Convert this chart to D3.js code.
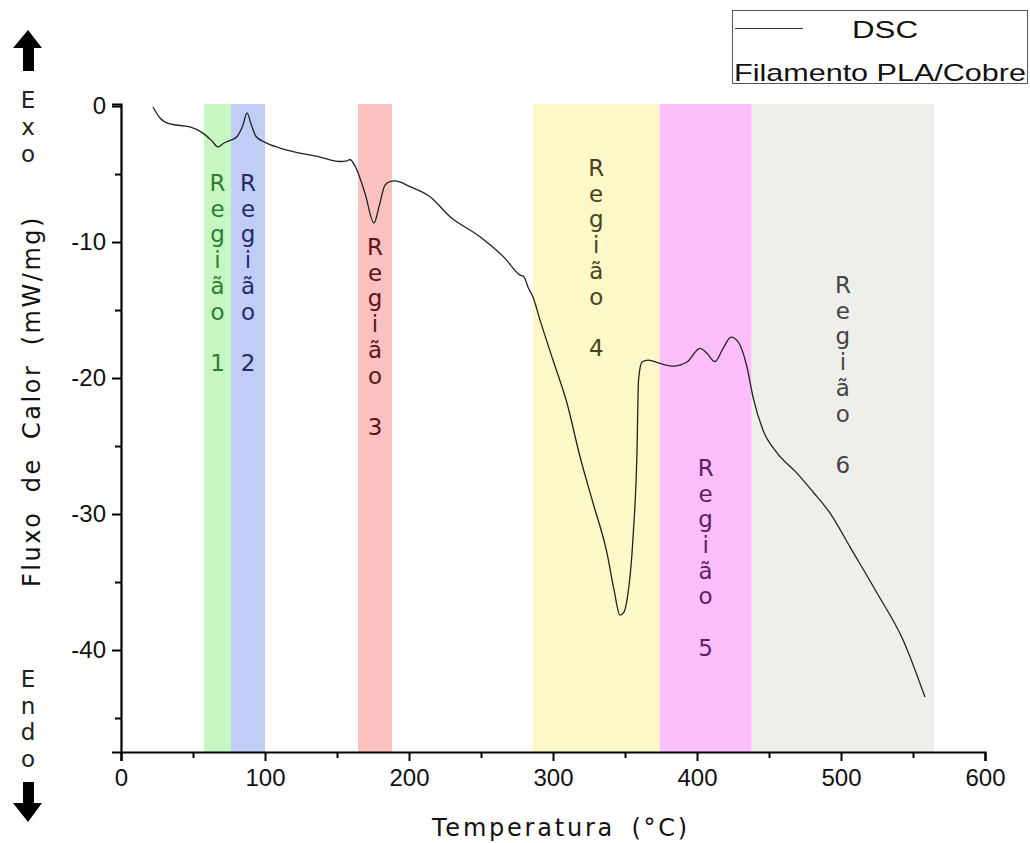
<!DOCTYPE html>
<html>
<head>
<meta charset="utf-8">
<script src="https://cdn.jsdelivr.net/npm/d3@7"></script>
<style>
  html, body { margin: 0; padding: 0; background: #fff; }
  svg { display: block; }
</style>
</head>
<body>
<svg id="chart" width="1030" height="843"></svg>
<script>
// ---------------- DATA ----------------
const temperature = [22.2, 27.1, 34.0, 47.9, 56.9, 63.2, 67.4, 71.5, 76.4, 80.6, 84.7, 87.5, 90.3, 93.8, 100.0,
  110.4, 138.2, 152.1, 156.9, 159.0, 163.2, 169.4, 175.7, 179.2, 183.3, 186.8, 190.3, 200.7, 214.6, 228.5,
  249.3, 266.7, 277.1, 279.9, 282.6, 286.1, 291.0, 300.0, 309.7, 318.8, 327.8, 337.5, 342.4, 346.5, 349.3,
  351.4, 355.6, 358.3, 359.4, 361.8, 366.0, 374.3, 383.3, 393.1, 402.1, 406.9, 412.5, 418.1, 423.6, 428.5,
  434.7, 438.9, 445.8, 455.6, 469.4, 480.6, 492.4, 506.3, 525.0, 543.1, 558.3];
const heatFlow = [-0.07, -0.88, -1.32, -1.54, -1.99, -2.57, -3.01, -2.72, -2.50, -2.24, -1.40, -0.51, -1.32, -2.24, -2.67,
  -3.09, -3.75, -4.08, -4.04, -3.93, -4.56, -6.40, -8.60, -7.40, -5.81, -5.55, -5.51, -5.93, -6.67, -8.14,
  -9.61, -11.20, -12.43, -12.57, -13.31, -14.04, -15.74, -18.68, -21.84, -25.81, -29.19, -32.87, -35.59, -37.43, -37.21,
  -36.32, -31.69, -25.51, -20.15, -18.82, -18.68, -18.93, -19.12, -18.82, -17.82, -18.18, -18.80, -17.82, -16.99, -17.33,
  -19.19, -21.40, -23.82, -25.51, -26.99, -28.38, -29.93, -32.43, -35.81, -39.26, -43.46];

const regionNames = ["Região 1", "Região 2", "Região 3", "Região 4", "Região 5", "Região 6"];
const regionStart = [57.6, 76.4, 164.6, 286.0, 374.0, 438.0];
const regionEnd   = [76.4, 100.0, 188.2, 374.0, 438.0, 564.6];
const regionLabelTop = [-6.25, -6.25, -10.96, -5.15, -27.2, -13.75]; // level (mW/mg) of first letter baseline

const xTicksMajor = [0, 100, 200, 300, 400, 500, 600];
const xTicksMinor = [50, 150, 250, 350, 450, 550];
const yTicksMajor = [0, -10, -20, -30, -40];
const yTicksMinor = [-5, -15, -25, -35, -45];

const xTitle = "Temperatura (°C)";
const yTitle = "Fluxo de Calor (mW/mg)";
const legendLines = ["DSC", "Filamento PLA/Cobre"];
const exoText = "Exo";
const endoText = "Endo";

// ---------------- STYLE ----------------
const bandFill = ["#c6f7c1", "#bfcdf7", "#fbc0c0", "#fdf8c8", "#fcbffc", "#eeeeea"];
const labelFill = ["#2f7d2f", "#27296a", "#5e1414", "#4b4320", "#5d2168", "#444444"];
const geoFont = "'DejaVu Sans', sans-serif";
const armFont = "'Liberation Sans', Arial, sans-serif";

const svg = d3.select("#chart");
const plot = { left: 121, right: 985, top: 104, bottom: 752 };

const x = d3.scaleLinear().domain([0, 600]).range([plot.left, plot.right]);
const y = d3.scaleLinear().domain([-47.5, 0.15]).range([plot.bottom, plot.top]);

// bands
svg.append("g").selectAll("rect")
  .data(regionNames)
  .join("rect")
  .attr("x", (d, i) => x(regionStart[i]))
  .attr("width", (d, i) => x(regionEnd[i]) - x(regionStart[i]))
  .attr("y", y(0.15))
  .attr("height", y(-47.5) - y(0.15))
  .attr("fill", (d, i) => bandFill[i]);

// region labels (stacked letters)
const lineH = 25.7;
regionNames.forEach((name, i) => {
  const chars = [];
  const [word, num] = name.split(" ");
  for (const c of word) chars.push(c);
  chars.push(" ");
  chars.push(num);
  const cx = x((regionStart[i] + regionEnd[i]) / 2);
  const t = svg.append("text")
    .attr("x", cx)
    .attr("y", y(regionLabelTop[i]))
    .attr("text-anchor", "middle")
    .attr("font-family", geoFont)
    .attr("font-size", 23)
    .attr("fill", labelFill[i]);
  chars.forEach((c, k) => {
    t.append("tspan")
      .attr("x", cx)
      .attr("dy", k === 0 ? 0 : lineH)
      .text(c === " " ? "\u00a0" : c);
  });
});

// curve
const line = d3.line()
  .x((d, i) => x(temperature[i]))
  .y((d, i) => y(heatFlow[i]))
  .curve(d3.curveMonotoneX);
svg.append("path")
  .datum(temperature)
  .attr("d", line)
  .attr("fill", "none")
  .attr("stroke", "#222")
  .attr("stroke-width", 1.3);

// axes
svg.append("g").attr("transform", `translate(0,${plot.bottom})`)
  .call(d3.axisBottom(x).tickValues(xTicksMajor).tickFormat(d3.format("d")).tickSize(9).tickPadding(8));
svg.append("g").attr("transform", `translate(0,${plot.bottom})`)
  .call(d3.axisBottom(x).tickValues(xTicksMinor).tickFormat("").tickSize(6))
  .select(".domain").remove();
const yAxis = svg.append("g").attr("transform", `translate(${plot.left},0)`)
  .call(d3.axisLeft(y).tickValues(yTicksMajor).tickFormat(d3.format("d")).tickSize(9).tickPadding(6));
svg.append("g").attr("transform", `translate(${plot.left},0)`)
  .call(d3.axisLeft(y).tickValues(yTicksMinor).tickFormat("").tickSize(6))
  .select(".domain").remove();

svg.selectAll(".domain").attr("stroke", "#000").attr("stroke-width", 2.2);
svg.selectAll(".tick line").attr("stroke", "#000").attr("stroke-width", 2);
svg.selectAll(".tick text").attr("font-family", armFont).attr("font-size", 24).attr("fill", "#111");
yAxis.selectAll(".tick text").text(d => d === 0 ? "0" : "-" + Math.abs(d));

// axis titles: modest word gap, then even letter spacing to reach the reference length
function fitText(sel, target, ws) {
  sel.attr("word-spacing", ws);
  const n = sel.text().length;
  const len = sel.node().getComputedTextLength();
  if (len < target) sel.attr("letter-spacing", (target - len) / n);
}
const xt = svg.append("text")
  .attr("x", 561).attr("y", 836)
  .attr("text-anchor", "middle")
  .attr("font-family", geoFont).attr("font-size", 24)
  .attr("fill", "#111")
  .text(xTitle);
fitText(xt, 258, 6);
const yt = svg.append("text")
  .attr("transform", "translate(40,401) rotate(-90)")
  .attr("text-anchor", "middle")
  .attr("font-family", geoFont).attr("font-size", 24)
  .attr("fill", "#111")
  .text(yTitle);
fitText(yt, 372, 8);

// Exo / Endo
const stack = (txt, x0, y0, dy) => {
  const t = svg.append("text").attr("x", x0).attr("y", y0)
    .attr("text-anchor", "middle").attr("font-family", geoFont)
    .attr("font-size", 23).attr("fill", "#222");
  [...txt].forEach((c, k) => t.append("tspan").attr("x", x0).attr("dy", k ? dy : 0).text(c));
};
stack(exoText, 28, 108, 27);
stack(endoText, 28, 687, 26.7);

// arrows
svg.append("path")
  .attr("d", "M28,30 L42,48 L34,48 L34,71 L23,71 L23,48 L13,48 Z")
  .attr("fill", "#000");
svg.append("path")
  .attr("d", "M28,822 L42,803 L34,803 L34,782 L23,782 L23,803 L13,803 Z")
  .attr("fill", "#000");

// legend
const lg = svg.append("g");
lg.append("rect").attr("x", 732.5).attr("y", 10.5).attr("width", 295).attr("height", 73)
  .attr("fill", "#fff").attr("stroke", "#555").attr("stroke-width", 1);
lg.append("line").attr("x1", 735).attr("x2", 803).attr("y1", 28.5).attr("y2", 28.5)
  .attr("stroke", "#333").attr("stroke-width", 1.2);
lg.append("text").attr("x", 885).attr("y", 38).attr("text-anchor", "middle")
  .attr("font-family", armFont).attr("font-size", 23).attr("fill", "#111")
  .attr("textLength", 66).attr("lengthAdjust", "spacingAndGlyphs")
  .text(legendLines[0]);
lg.append("text").attr("x", 734).attr("y", 81).attr("text-anchor", "start")
  .attr("font-family", armFont).attr("font-size", 24).attr("fill", "#111")
  .attr("textLength", 292).attr("lengthAdjust", "spacingAndGlyphs")
  .text(legendLines[1]);
</script>
</body>
</html>
